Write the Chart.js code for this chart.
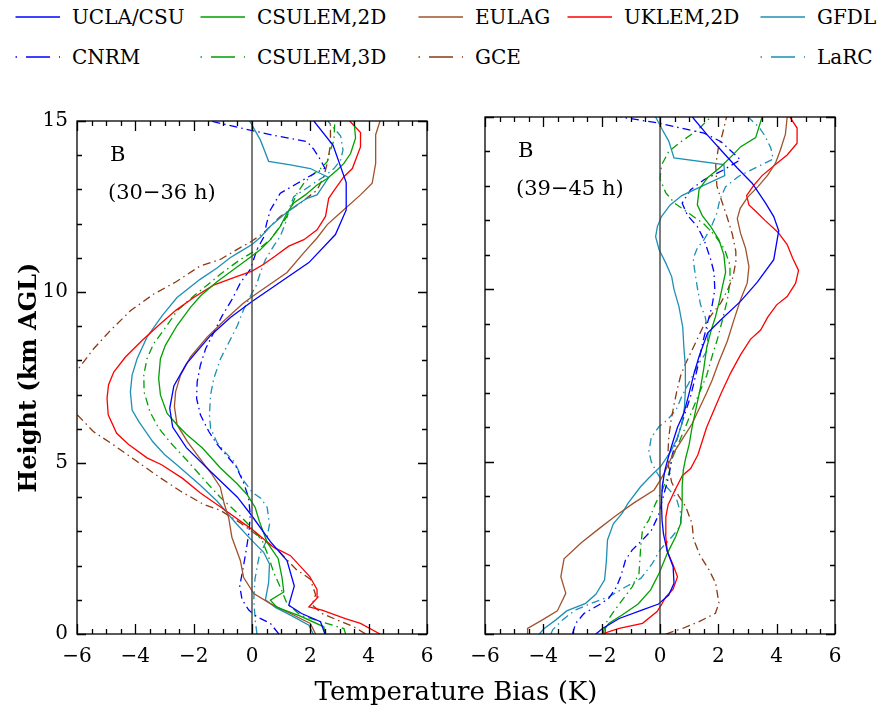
<!DOCTYPE html>
<html>
<head>
<meta charset="utf-8">
<script src="https://cdn.jsdelivr.net/npm/chart.js@4.4.1/dist/chart.umd.min.js"></script>
<style>
  html, body { margin: 0; padding: 0; background: #fff; }
  #wrap { position: relative; width: 880px; height: 719px; overflow: hidden; font-family: "DejaVu Serif", serif; color: #000; }
  canvas { position: absolute; top: 100px; }
  #left { left: 0; }
  #right { left: 440px; }
  .legtxt { position: absolute; font-size: 20px; line-height: 24px; white-space: nowrap; }
  .legline { position: absolute; }
  #xtitle { position: absolute; left: 0; width: 912px; top: 675px; text-align: center; font-size: 26px; line-height: 32px; }
</style>
</head>
<body>
<div id="wrap">
  <div id="legend"></div>
  <canvas id="left" width="445" height="619"></canvas>
  <canvas id="right" width="440" height="619"></canvas>
  <div id="xtitle">Temperature Bias (K)</div>
</div>
<script>
// tick labels
const xTicks = [-6, -4, -2, 0, 2, 4, 6];
const yTicks = [0, 5, 10, 15];

// model names, colours, line style (row 2 of legend is dash-dot)
const names = ['UCLA/CSU', 'CSULEM,2D', 'EULAG', 'UKLEM,2D', 'GFDL', 'CNRM', 'CSULEM,3D', 'GCE', 'LaRC'];
const colors = ['#0000ff', '#00a000', '#a0522d', '#ff0000', '#1e90b4', '#0000ff', '#00a000', '#8b3a12', '#1e90b4'];
const dashed = [false, false, false, false, false, true, true, true, true];

// profiles, [bias K, height km]
// panel 1: 30-36 h
const uclaA = [[2.5,0],[2.35,0.36],[1.7,0.6],[1.26,0.84],[1.45,1.4],[1.2,2.15],[0.63,2.7],[0,3.45],[-0.5,4.0],[-1.43,4.76],[-2.25,5.45],[-2.72,6.05],[-2.82,6.6],[-2.68,7.25],[-2.25,7.9],[-1.42,8.73],[-0.73,9.26],[0,9.72],[1.95,10.86],[2.86,11.68],[3.23,12.4],[3.23,13.2],[2.78,14.29],[2.12,15]];
const csulem2A = [[2.52,0],[2.46,0.21],[1.66,0.52],[0.86,0.78],[0.63,0.99],[1.09,1.23],[1.03,1.65],[0.9,2.2],[0.52,2.68],[0.25,3.3],[0.11,3.7],[-0.17,4.08],[-0.52,4.4],[-1.09,4.86],[-1.7,5.44],[-2.25,5.84],[-2.57,6.12],[-2.91,6.45],[-3.14,6.99],[-3.2,7.47],[-3.14,8.05],[-2.97,8.44],[-2.57,9.02],[-2.11,9.55],[-1.76,9.89],[-1.2,10.3],[-0.63,10.66],[0,11.05],[0.29,11.24],[0.63,11.53],[0.97,11.92],[1.2,12.31],[1.43,12.6],[1.83,12.84],[2.23,13.13],[2.58,13.32],[2.92,13.57],[3.15,13.76],[3.38,14.05],[3.55,14.5],[3.5,15]];
const eulagA = [[2.18,0],[2.0,0.31],[1.32,0.6],[0.63,0.89],[0.06,1.18],[-0.29,1.66],[-0.4,2.15],[-0.69,2.83],[-0.8,3.4],[-0.95,3.8],[-1.09,4.3],[-1.4,4.7],[-1.88,5.24],[-2.22,5.63],[-2.57,6.12],[-2.66,6.65],[-2.62,7.08],[-2.45,7.57],[-2.11,8.1],[-1.54,8.68],[-0.96,9.16],[-0.33,9.65],[0,9.86],[1.2,10.57],[1.78,11.15],[2.23,11.58],[2.58,11.97],[3.09,12.36],[3.72,12.84],[4.12,13.18],[4.24,13.76],[4.24,14.6],[4.39,15]];
const uklemA = [[4.39,0],[3.72,0.31],[3.2,0.45],[2.4,0.7],[1.95,0.79],[2.26,1.08],[2.23,1.3],[1.98,1.68],[1.32,2.29],[0.74,2.54],[0,3.06],[-1.09,3.72],[-1.78,4.13],[-2.38,4.55],[-3.1,4.95],[-3.6,5.15],[-4.24,5.55],[-4.64,5.87],[-4.93,6.41],[-4.97,6.89],[-4.92,7.28],[-4.74,7.66],[-4.34,8.1],[-3.77,8.58],[-3.14,9.07],[-2.6,9.47],[-2.0,9.84],[-1.32,10.2],[-0.46,10.47],[0,10.61],[0.4,10.81],[0.8,11.05],[1.26,11.34],[1.78,11.53],[2.23,11.82],[2.52,12.21],[2.63,12.74],[2.75,12.89],[3.15,13.37],[3.44,13.61],[3.72,14.24],[3.72,14.66],[3.35,15]];
const gfdlA = [[2.1,0],[1.95,0.26],[1.32,0.55],[0.8,0.78],[0.46,1.0],[0.57,1.5],[0.6,2.05],[0.4,2.39],[0,2.73],[-0.52,3.21],[-1.2,3.89],[-1.8,4.37],[-2.58,4.95],[-3.0,5.25],[-3.4,5.62],[-3.88,6.21],[-4.11,6.55],[-4.17,7.08],[-4.11,7.57],[-3.94,8.05],[-3.6,8.68],[-3.08,9.31],[-2.57,9.84],[-1.78,10.37],[-1.2,10.7],[-0.75,11.0],[-0.46,11.15],[0,11.39],[0.29,11.6],[0.63,11.92],[1.09,12.26],[1.55,12.55],[1.89,12.74],[2.23,12.84],[2.46,13.13],[2.63,13.35],[2.0,13.61],[1.32,13.72],[0.57,13.82],[0.29,14.44],[-0.08,15]];
const cnrmA = [[0.92,0],[0.63,0.31],[0.17,0.5],[-0.11,0.7],[-0.34,1.0],[-0.42,1.4],[-0.3,1.95],[-0.2,2.44],[-0.1,3.0],[-0.06,3.5],[-0.12,4.0],[-0.3,4.45],[-0.55,4.9],[-0.85,5.2],[-1.2,5.55],[-1.48,5.92],[-1.77,6.41],[-1.9,6.89],[-1.88,7.37],[-1.77,7.86],[-1.59,8.34],[-1.31,8.82],[-1.02,9.31],[-0.68,9.79],[-0.39,10.28],[-0.06,10.66],[0.17,11.24],[0.4,11.6],[0.5,12.0],[0.63,12.4],[0.97,12.89],[1.5,13.15],[2.0,13.4],[2.5,13.62],[2.35,13.86],[2.12,14.17],[1.89,14.4],[0.86,14.56],[-0.2,14.76],[-1.43,15]];
const csulem3A = [[3.21,0],[3.15,0.16],[2.35,0.36],[1.66,0.55],[1.2,0.89],[0.97,1.37],[0.74,1.81],[0.55,2.3],[0.35,2.73],[0,3.1],[-0.52,3.55],[-1.09,4.0],[-1.6,4.47],[-2.2,5.05],[-2.8,5.6],[-3.2,6.02],[-3.5,6.5],[-3.7,7.08],[-3.71,7.57],[-3.6,8.05],[-3.37,8.49],[-3.0,8.92],[-2.57,9.45],[-1.99,9.89],[-1.42,10.28],[-1.09,10.52],[-0.4,10.95],[0,11.15],[0.29,11.3],[0.63,11.53],[0.97,11.92],[1.2,12.21],[1.37,12.55],[1.55,12.89],[1.78,13.18],[2.06,13.42],[2.35,13.61],[2.58,13.81],[2.69,14.15],[2.81,14.44],[2.84,15]];
const gceA = [[3.9,0],[3.49,0.21],[2.92,0.41],[2.4,0.6],[2.06,0.85],[2.18,1.15],[2.0,1.6],[1.5,1.9],[0.9,2.44],[0.35,2.78],[-0.4,3.25],[-1.09,3.62],[-1.66,3.79],[-2.46,4.18],[-3.15,4.57],[-3.95,5.05],[-4.75,5.53],[-5.44,5.92],[-5.99,6.41],[-6.5,7.0],[-6.0,7.7],[-5.43,8.34],[-4.86,8.87],[-4.17,9.45],[-3.37,9.94],[-2.6,10.3],[-1.78,10.76],[-1.09,10.95],[-0.52,11.24],[0,11.49],[0.4,11.73],[0.97,12.21],[1.66,12.6],[2.23,12.98],[2.46,13.37],[2.58,13.76],[2.69,14.3],[2.69,15]];
const larcA = [[0.17,0],[0.11,0.41],[0.06,1.0],[0.1,1.6],[0.25,2.3],[0.5,2.73],[0.6,3.21],[0.52,3.7],[0.3,3.97],[0,4.15],[-0.3,4.5],[-0.62,5.05],[-0.95,5.34],[-1.2,5.6],[-1.42,6.02],[-1.46,6.41],[-1.42,6.99],[-1.31,7.47],[-1.08,8.05],[-0.79,8.53],[-0.5,9.02],[-0.28,9.5],[-0.05,9.89],[0.15,10.2],[0.29,10.57],[0.46,10.95],[0.74,11.34],[0.97,11.63],[1.15,12.02],[1.26,12.4],[1.43,12.79],[1.78,12.98],[2.12,13.18],[2.46,13.37],[2.81,13.61],[3.04,13.86],[3.12,14.15],[3.04,14.56],[2.6,15]];

// panel 2: 39-45 h
const uclaB = [[-2.2,0],[-1.97,0.16],[-1.4,0.45],[-0.6,0.7],[-0.05,0.87],[0.3,1.13],[0.48,1.47],[0.45,1.95],[0.25,2.4],[0.12,2.9],[0.07,3.3],[0.05,3.8],[0.08,4.3],[0.17,4.76],[0.31,5.2],[0.45,5.6],[0.6,6.0],[0.82,6.41],[1.0,6.99],[1.17,7.57],[1.34,8.05],[1.63,8.73],[2.08,9.11],[2.76,9.65],[3.33,10.2],[3.9,10.86],[4.07,11.7],[3.9,12.11],[3.62,12.5],[3.16,13.08],[2.65,13.52],[2.08,14.05],[1.62,14.48],[1.11,15]];
const csulem2B = [[-1.95,0],[-1.92,0.12],[-1.75,0.31],[-1.3,0.55],[-0.75,0.87],[-0.32,1.28],[-0.03,1.76],[0.25,2.34],[0.54,2.83],[0.71,3.21],[0.76,3.7],[0.76,4.3],[0.8,4.76],[0.88,5.1],[1.0,5.5],[1.1,6.0],[1.2,6.4],[1.3,6.8],[1.4,7.2],[1.5,7.7],[1.6,8.3],[1.75,8.8],[1.9,9.2],[2.02,9.6],[2.14,10.08],[2.25,10.5],[2.19,11.0],[2.02,11.44],[1.74,11.82],[1.45,12.14],[1.28,12.45],[1.34,12.9],[1.62,13.23],[2.08,13.55],[2.5,13.9],[2.77,14.14],[3.28,14.4],[3.5,15]];
const eulagB = [[-4.54,0],[-4.54,0.16],[-4.03,0.41],[-3.52,0.67],[-3.23,1.18],[-3.4,1.66],[-3.29,2.18],[-2.7,2.65],[-2.1,3.05],[-1.55,3.41],[-0.92,3.79],[-0.2,4.18],[0,4.45],[0.14,4.66],[0.3,4.95],[0.5,5.3],[0.8,5.7],[1.1,6.1],[1.35,6.55],[1.6,7.0],[1.79,7.37],[2.02,7.9],[2.31,8.5],[2.53,9.1],[2.76,9.7],[2.99,10.18],[3.05,10.66],[2.93,11.2],[2.76,11.63],[2.65,12.05],[2.75,12.35],[3.0,12.67],[3.36,12.98],[3.7,13.32],[3.96,13.66],[4.13,14.05],[4.3,14.5],[4.36,15]];
const uklemB = [[-2.0,0],[-1.4,0.16],[-0.6,0.31],[-0.1,0.65],[0.05,0.85],[0.2,1.08],[0.45,1.3],[0.6,1.66],[0.45,2.0],[0.25,2.4],[0.19,2.9],[0.2,3.4],[0.28,3.75],[0.5,4.15],[0.77,4.6],[1.05,4.8],[1.3,5.2],[1.45,5.6],[1.6,6.0],[1.8,6.4],[2.1,6.99],[2.42,7.57],[2.76,8.1],[3.1,8.55],[3.45,8.82],[3.7,9.2],[4.0,9.55],[4.36,9.79],[4.65,10.18],[4.75,10.55],[4.55,10.9],[4.36,11.3],[4.05,11.65],[3.6,12.0],[3.3,12.25],[3.05,12.45],[2.97,12.72],[3.2,13.0],[3.5,13.3],[4.0,13.65],[4.36,13.9],[4.7,14.24],[4.7,14.68],[4.45,15]];
const gfdlB = [[-4.14,0],[-3.97,0.16],[-3.57,0.41],[-3.2,0.67],[-2.55,0.89],[-2.2,1.15],[-1.9,1.57],[-1.84,2.1],[-1.8,2.73],[-1.6,3.2],[-1.3,3.5],[-1.1,3.79],[-0.66,4.28],[-0.3,4.6],[0.02,4.86],[0.37,5.3],[0.6,5.7],[0.75,6.1],[0.84,6.6],[0.88,7.2],[0.87,7.76],[0.82,8.3],[0.78,8.9],[0.65,9.5],[0.48,10.0],[0.4,10.37],[0.2,10.76],[-0.03,11.15],[-0.15,11.53],[-0.09,11.82],[0.05,12.11],[0.35,12.45],[0.75,12.72],[1.35,12.96],[2.22,13.3],[2.19,13.62],[0.48,13.81],[0.3,14.3],[0.08,14.63],[-0.15,15]];
const cnrmB = [[-3.0,0],[-2.89,0.31],[-2.6,0.6],[-2.1,0.84],[-1.75,1.04],[-1.5,1.35],[-1.35,1.66],[-1.18,2.15],[-0.95,2.44],[-0.6,2.73],[-0.3,3.0],[-0.05,3.45],[0.14,4.08],[0.31,4.6],[0.42,5.2],[0.6,5.7],[0.8,6.25],[1.05,6.9],[1.28,7.7],[1.45,8.4],[1.62,9.0],[1.78,9.5],[1.88,10.0],[1.85,10.5],[1.74,10.86],[1.51,11.44],[1.28,11.82],[0.94,12.15],[0.76,12.5],[1.05,12.89],[1.51,13.18],[2.19,13.47],[2.76,13.76],[2.08,14.29],[1.51,14.53],[-0.09,14.83],[-1.35,15]];
const csulem3B = [[-1.88,0],[-1.86,0.31],[-1.63,0.6],[-1.29,0.99],[-0.95,1.37],[-0.72,1.76],[-0.66,2.54],[-0.6,3.02],[-0.38,3.31],[-0.15,3.79],[0.08,4.18],[0.3,4.65],[0.42,5.1],[0.62,5.5],[0.82,5.9],[1.11,6.5],[1.39,7.08],[1.6,7.5],[1.8,8.1],[1.96,8.53],[2.14,9.11],[2.31,9.7],[2.4,10.2],[2.4,10.7],[2.22,11.15],[1.9,11.55],[1.5,11.9],[1.0,12.2],[0.5,12.5],[0.2,12.8],[0.0,13.2],[0.05,13.6],[0.3,14.0],[0.75,14.3],[1.3,14.63],[1.74,15]];
const gceB = [[0.2,0],[0.77,0.16],[1.34,0.36],[1.9,0.6],[2.02,0.9],[1.91,1.47],[1.68,1.86],[1.36,2.3],[1.15,2.75],[1.1,3.2],[0.88,3.7],[0.65,3.99],[0.4,4.4],[0.3,4.8],[0.27,5.2],[0.3,5.7],[0.37,6.15],[0.48,6.65],[0.59,7.1],[0.71,7.5],[0.85,7.8],[1.05,8.15],[1.3,8.6],[1.5,8.95],[1.8,9.3],[2.08,9.6],[2.3,9.95],[2.5,10.35],[2.6,10.8],[2.6,11.1],[2.48,11.6],[2.3,12.1],[2.1,12.6],[1.95,13.0],[1.91,13.6],[2.0,14.1],[2.14,14.5],[2.28,15]];
const larcB = [[-3.74,0],[-3.68,0.12],[-3.34,0.41],[-2.9,0.7],[-2.35,0.89],[-1.75,1.08],[-1.17,1.37],[-0.65,1.62],[-0.26,2.05],[0.0,2.44],[0.42,2.83],[0.71,3.15],[0.71,3.5],[0.55,3.97],[0.19,4.3],[-0.12,4.7],[-0.3,5.0],[-0.38,5.3],[-0.3,5.7],[-0.03,6.02],[0.25,6.21],[0.55,6.5],[0.75,6.9],[1.0,7.3],[1.3,7.8],[1.6,8.2],[1.65,8.73],[1.55,9.2],[1.39,9.55],[1.28,10.05],[1.18,10.6],[1.14,10.9],[1.28,11.2],[1.51,11.44],[1.74,11.78],[1.95,12.21],[2.05,12.6],[2.25,12.98],[2.7,13.28],[3.33,13.55],[3.88,13.78],[3.8,14.1],[3.6,14.45],[3.4,14.7],[3.02,15]];

const panelA = [uclaA, csulem2A, eulagA, uklemA, gfdlA, cnrmA, csulem3A, gceA, larcA];
const panelB = [uclaB, csulem2B, eulagB, uklemB, gfdlB, cnrmB, csulem3B, gceB, larcB];

const FONT = 'DejaVu Serif';
const dashDot = [8, 4, 1.5, 4];
const fmt = v => (v < 0 ? '\u2212' + Math.abs(v) : String(v));

// legend, two rows like the original
const legCols = [15, 200, 418, 567, 760];
const legSlot = [[0,0],[0,1],[0,2],[0,3],[0,4],[1,0],[1,1],[1,2],[1,4]];
const legend = document.getElementById('legend');
names.forEach((n, i) => {
  const [row, col] = legSlot[i];
  const x = legCols[col], y = row ? 57 : 17;
  const svg = document.createElementNS('http://www.w3.org/2000/svg', 'svg');
  svg.setAttribute('width', 46); svg.setAttribute('height', 4);
  svg.setAttribute('class', 'legline');
  svg.style.left = x + 'px'; svg.style.top = (y - 2) + 'px';
  const ln = document.createElementNS('http://www.w3.org/2000/svg', 'line');
  ln.setAttribute('x1', 0.5); ln.setAttribute('x2', 45); ln.setAttribute('y1', 2); ln.setAttribute('y2', 2);
  ln.setAttribute('stroke', colors[i]); ln.setAttribute('stroke-width', 1.6);
  if (dashed[i]) ln.setAttribute('stroke-dasharray', '1.5 9 24 9 1.5');
  svg.appendChild(ln);
  legend.appendChild(svg);
  const t = document.createElement('div');
  t.className = 'legtxt';
  t.textContent = n;
  t.style.left = (x + 57) + 'px'; t.style.top = (y - 12) + 'px';
  legend.appendChild(t);
});

// frame with inward ticks on all four sides, plus the panel label
const framePlugin = {
  id: 'frame',
  afterDraw(chart) {
    const { ctx, chartArea: a, scales: { x, y } } = chart;
    ctx.save();
    ctx.strokeStyle = '#000';
    ctx.lineWidth = 1.3;
    ctx.strokeRect(a.left, a.top, a.right - a.left, a.bottom - a.top);
    ctx.beginPath();
    for (let v = -6; v <= 6; v += 0.5) {
      const px = Math.round(x.getPixelForValue(v)) + 0.5;
      const len = v % 2 === 0 ? 10 : 5;
      ctx.moveTo(px, a.bottom); ctx.lineTo(px, a.bottom - len);
      ctx.moveTo(px, a.top); ctx.lineTo(px, a.top + len);
    }
    for (let v = 0; v <= 15; v += 1) {
      const py = Math.round(y.getPixelForValue(v)) + 0.5;
      const len = v % 5 === 0 ? 9 : 5;
      ctx.moveTo(a.left, py); ctx.lineTo(a.left + len, py);
      ctx.moveTo(a.right, py); ctx.lineTo(a.right - len, py);
    }
    ctx.stroke();
    const lab = chart.options.plugins.frame.label;
    ctx.fillStyle = '#000';
    ctx.textBaseline = 'middle';
    ctx.textAlign = 'left';
    ctx.font = '21px "' + FONT + '"';
    ctx.fillText('B', a.left + 33, a.top + 35);
    ctx.fillText(lab, a.left + 31, a.top + 73);
    ctx.restore();
  }
};

function makePanel(id, profiles, label, showY) {
  const datasets = [{
    data: [{ x: 0, y: 0 }, { x: 0, y: 15 }],
    borderColor: '#444', borderWidth: 1.4, showLine: true, pointRadius: 0
  }];
  profiles.forEach((p, i) => {
    datasets.push({
      label: names[i],
      data: p.map(([t, h]) => ({ x: t, y: h })),
      borderColor: colors[i],
      borderWidth: 1.3,
      borderDash: dashed[i] ? dashDot : [],
      showLine: true,
      pointRadius: 0,
      tension: 0
    });
  });
  return new Chart(document.getElementById(id), {
    type: 'scatter',
    data: { datasets },
    options: {
      responsive: false,
      animation: false,
      devicePixelRatio: 1,
      layout: { padding: { top: 17, right: showY ? 18 : 45, left: 0, bottom: 0 } },
      plugins: { legend: { display: false }, tooltip: { enabled: false }, frame: { label } },
      scales: {
        x: {
          type: 'linear', min: -6, max: 6,
          afterBuildTicks: s => { s.ticks = xTicks.map(v => ({ value: v })); },
          afterFit: s => { s.height = 85; },
          grid: { display: false, drawTicks: false },
          border: { display: false },
          ticks: { padding: 11, color: '#000', maxRotation: 0, autoSkip: false, font: { family: FONT, size: 20 }, callback: v => fmt(v) }
        },
        y: {
          type: 'linear', min: 0, max: 15,
          afterBuildTicks: s => { s.ticks = yTicks.map(v => ({ value: v })); },
          afterFit: s => { s.width = showY ? 77 : 45; },
          grid: { display: false, drawTicks: false },
          border: { display: false },
          ticks: { display: showY, padding: 9, color: '#000', font: { family: FONT, size: 20 }, callback: v => fmt(v) },
          title: { display: showY, text: 'Height (km AGL)', color: '#000', font: { family: FONT, size: 24, weight: 'bold' }, padding: { top: 15, bottom: 0 } }
        }
      }
    },
    plugins: [framePlugin]
  });
}

makePanel('left', panelA, '(30\u221236 h)', true);
makePanel('right', panelB, '(39\u221245 h)', false);
</script>
</body>
</html>
